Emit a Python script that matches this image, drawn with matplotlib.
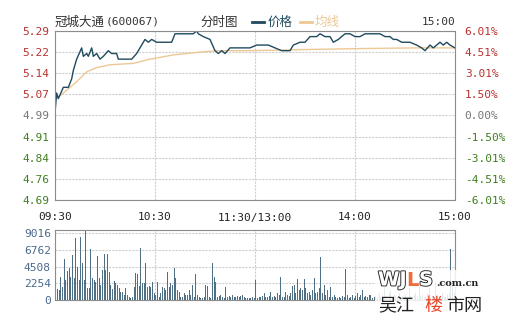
import matplotlib.pyplot as plt
import matplotlib.patheffects as pe
import numpy as np

plt.rcParams['font.family'] = ['DejaVu Sans Mono', 'Noto Sans CJK SC']

# 价格 (分钟, 价格)
price_min = [0, 1, 2, 5, 8, 10, 11, 13, 16, 17, 19, 20, 22, 23, 25, 27, 29, 32, 34, 37,
             38, 46, 49, 51, 54, 56, 58, 61, 67, 70, 72, 75, 78, 80, 83, 85, 86, 89, 93, 96,
             98, 100, 102, 105, 109, 113, 117, 121, 128, 132, 136, 141, 143, 147, 150, 153, 157, 159, 162, 165,
             167, 170, 174, 177, 180, 183, 186, 195, 198, 201, 203, 205, 208, 213, 217, 220, 222, 225, 227, 229,
             231, 233, 235, 237, 240]
price_val = [5.00, 5.07, 5.05, 5.09, 5.09, 5.12, 5.15, 5.19, 5.23, 5.20, 5.21, 5.20, 5.23, 5.20, 5.21, 5.19, 5.20, 5.22, 5.21, 5.21,
             5.19, 5.19, 5.21, 5.23, 5.26, 5.25, 5.26, 5.25, 5.25, 5.25, 5.28, 5.28, 5.28, 5.28, 5.28, 5.29, 5.28, 5.27, 5.26, 5.22,
             5.21, 5.22, 5.21, 5.23, 5.23, 5.23, 5.23, 5.24, 5.24, 5.23, 5.22, 5.22, 5.24, 5.25, 5.25, 5.27, 5.27, 5.28, 5.27, 5.27,
             5.25, 5.26, 5.28, 5.28, 5.27, 5.27, 5.28, 5.28, 5.27, 5.27, 5.26, 5.26, 5.25, 5.25, 5.24, 5.23, 5.22, 5.24, 5.23, 5.24,
             5.25, 5.24, 5.25, 5.24, 5.23]

# 均线
avg_min = [1, 7, 13, 19, 25, 33, 47, 57, 71, 87, 97, 117, 158, 189, 219, 240]
avg_val = [5.05, 5.08, 5.11, 5.145, 5.16, 5.17, 5.175, 5.19, 5.205, 5.215, 5.22, 5.22, 5.225, 5.228, 5.23, 5.23]

# 成交量 (每分钟)
volume = [1200, 1440, 1400, 3050, 1800, 5520, 2690, 3950, 4260, 3140,
          6060, 2920, 8300, 4490, 2690, 8430, 4930, 2690, 9400, 1570,
          1570, 6820, 2920, 2690, 2470, 5920, 2920, 2020, 4040, 6150,
          4040, 6150, 3815, 2020, 1500, 2560, 2330, 2020, 1570, 1120,
          1120, 670, 1570, 670, 360, 300, 450, 1800, 3680, 3460,
          1930, 7040, 2240, 2240, 5020, 1800, 1880, 1800, 2470, 900,
          670, 2470, 450, 900, 1800, 1570, 1350, 3815, 1800, 2240,
          2020, 4260, 2920, 1350, 1120, 450, 450, 900, 670, 670,
          1350, 670, 2020, 450, 3460, 670, 450, 220, 300, 450,
          2020, 1880, 450, 220, 5020, 3140, 2470, 360, 540, 670,
          450, 300, 1800, 450, 540, 450, 670, 360, 450, 540,
          360, 540, 670, 360, 220, 220, 220, 300, 360, 220,
          2690, 300, 450, 360, 540, 900, 450, 360, 540, 1120,
          450, 540, 360, 900, 670, 3050, 450, 360, 1120, 670,
          540, 900, 1880, 2020, 900, 2780, 1350, 1570, 1350, 2830,
          1570, 900, 1120, 670, 1350, 2920, 900, 1120, 1570, 5790,
          900, 2020, 670, 1350, 450, 1800, 450, 670, 360, 220,
          450, 300, 540, 360, 4170, 670, 300, 450, 670, 300,
          540, 900, 450, 670, 1350, 450, 540, 360, 670, 670,
          300, 450, 540, 360, 900, 450, 670, 1800, 540, 360,
          900, 1350, 450, 670, 540, 360, 900, 450, 540, 360,
          670, 450, 1570, 540, 360, 670, 900, 450, 1800, 540,
          670, 360, 450, 900, 1570, 450, 540, 360, 2240, 670,
          450, 540, 900, 360, 450, 670, 900, 6820, 2470, 900]

prev_close = 4.99
pct_ticks = [-6.01, -4.51, -3.01, -1.50, 0.00, 1.50, 3.01, 4.51, 6.01]
price_labels = ['4.69', '4.76', '4.84', '4.91', '4.99', '5.07', '5.14', '5.22', '5.29']
pct_labels = ['-6.01%', '-4.51%', '-3.01%', '-1.50%', '0.00%', '1.50%', '3.01%', '4.51%', '6.01%']
time_ticks = [0, 60, 120, 180, 240]
time_labels = ['09:30', '10:30', '11:30/13:00', '14:00', '15:00']
vol_ticks = [0, 2254, 4508, 6762, 9016]

red = '#b8312f'
green = '#3f7f1f'
grey = '#777777'
line_c = '#1f4a5e'
avg_c = '#edc894'
grid_c = '#cfcfcf'
frame_c = '#8c8c8c'

fig = plt.figure(figsize=(5.05, 3.3), dpi=100)
fig.patch.set_facecolor('white')

# 分时图
ax = fig.add_axes([55/505, 1-200/330, 400/505, 169/330])
ax.plot(avg_min, avg_val, color=avg_c, lw=1.0)
ax.plot(price_min, price_val, color=line_c, lw=1.0)
ax.set_xlim(0, 240)
ax.set_ylim(prev_close*(1+pct_ticks[0]/100), prev_close*(1+pct_ticks[-1]/100))
yt = [prev_close*(1+p/100) for p in pct_ticks]
ax.set_yticks(yt)
ax.set_yticklabels(price_labels, fontsize=8)
ax.set_xticks(time_ticks)
ax.set_xticklabels(time_labels, fontsize=8, color='#222222')
ax.tick_params(length=0, pad=4)
ax.tick_params(axis='x', pad=9)
ax.grid(True, color=grid_c, ls=(0, (2, 1)), lw=0.8)
for s in ax.spines.values():
    s.set_color(frame_c)
for p, t in zip(pct_ticks, ax.get_yticklabels()):
    t.set_color(red if p > 0 else (green if p < 0 else grey))

ax2 = ax.twinx()
ax2.set_ylim(ax.get_ylim())
ax2.set_yticks(yt)
ax2.set_yticklabels(pct_labels, fontsize=8)
ax2.tick_params(length=0, pad=7)
for s in ax2.spines.values():
    s.set_visible(False)
for p, t in zip(pct_ticks, ax2.get_yticklabels()):
    t.set_color(red if p > 0 else (green if p < 0 else grey))

# 标题与图例
cjk = ['Noto Sans CJK SC', 'DejaVu Sans']
fig.text(55/505, 1-22/330, '冠城大通', fontsize=9, color='#333333', va='center', family=cjk)
fig.text(106/505, 1-22/330, '(600067)', fontsize=8, color='#333333', va='center')
fig.text(200/505, 1-22/330, '分时图', fontsize=9, color='#333333', va='center', family=cjk)
fig.lines.append(plt.Line2D([252/505, 264/505], [1-22/330]*2, color=line_c, lw=2, transform=fig.transFigure))
fig.text(268/505, 1-22/330, '价格', fontsize=9, color=line_c, va='center', family=cjk)
fig.lines.append(plt.Line2D([300/505, 312/505], [1-22/330]*2, color=avg_c, lw=2, transform=fig.transFigure))
fig.text(315/505, 1-22/330, '均线', fontsize=9, color=avg_c, va='center', family=cjk)
fig.text(455/505, 1-22/330, '15:00', fontsize=8, color='#333333', va='center', ha='right')

# 成交量
axv = fig.add_axes([55/505, 1-300/330, 400/505, 70/330])
axv.bar(np.arange(len(volume)) + 0.5, volume, width=0.6, color='#4f6f84')
axv.set_xlim(0, 240)
axv.set_ylim(0, 9420)
axv.set_yticks(vol_ticks)
axv.set_yticklabels([str(v) for v in vol_ticks], fontsize=8, color='#4a6a8c')
axv.set_xticks(time_ticks)
axv.set_xticklabels([])
axv.tick_params(length=0, pad=3)
axv.grid(True, color=grid_c, ls=(0, (2, 1)), lw=0.8)
axv.set_axisbelow(True)
for s in axv.spines.values():
    s.set_color(frame_c)

# 水印
fig.patches.append(plt.Rectangle((375/505, 1-322/330), 120/505, 52/330, transform=fig.transFigure,
                                 facecolor='white', alpha=0.85, edgecolor='none'))
wm = [pe.withStroke(linewidth=1.3, foreground='#222222')]
fig.text(378/505, 1-280/330, 'WJ', fontsize=14, color='white', va='center', family='DejaVu Sans',
         fontweight='bold', path_effects=wm)
fig.text(406/505, 1-280/330, 'L', fontsize=14, color='#f06a3a', va='center', family='DejaVu Sans',
         fontweight='bold')
fig.text(419/505, 1-280/330, 'S', fontsize=14, color='white', va='center', family='DejaVu Sans',
         fontweight='bold', path_effects=wm)
fig.text(436/505, 1-283/330, '.com.cn', fontsize=7, color='#222222', va='center', family='DejaVu Serif',
         fontweight='bold')
fig.text(378/505, 1-306/330, '吴江', fontsize=13, color='#222222', va='center', family=cjk)
fig.text(424/505, 1-306/330, '楼', fontsize=13, color='#e8482a', va='center', family=cjk)
fig.text(446/505, 1-306/330, '市网', fontsize=13, color='#222222', va='center', family=cjk)

fig.savefig('out.png', dpi=100)
